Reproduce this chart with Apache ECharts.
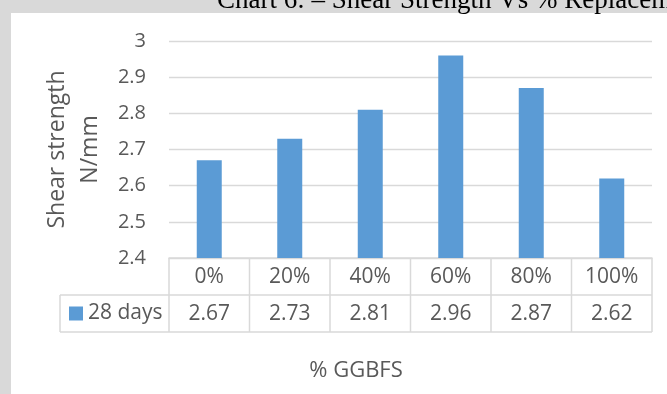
<!DOCTYPE html>
<html>
<head>
<meta charset="utf-8">
<script src="https://cdn.jsdelivr.net/npm/echarts@6/dist/echarts.min.js"></script>
<style>
  html, body { margin: 0; padding: 0; background: #fff; }
  #chart { width: 667px; height: 394px; }
</style>
</head>
<body>
<div id="chart"></div>
<script>
// Shear strength at 28 days for each GGBFS replacement level
const categories = ['0%', '20%', '40%', '60%', '80%', '100%'];
const days28 = [2.67, 2.73, 2.81, 2.96, 2.87, 2.62];
const seriesName = '28 days';
const yMin = 2.4;
const yMax = 3;
const yStep = 0.1;

const FONT = '"Open Sans", "Noto Sans", sans-serif';
const TEXT = '#595959';
const LINE = '#d9d9d9';
const PAGE = '#d9d9d9';
const BAR = '#5b9bd5';
const ROW_H = 37;

const chart = echarts.init(document.getElementById('chart'), null, { renderer: 'canvas' });

const option = {
  backgroundColor: '#ffffff',
  animation: false,
  textStyle: { fontFamily: FONT },
  grid: { left: 169, right: 15, top: 41, bottom: 136, containLabel: false },
  legend: {
    data: [seriesName],
    left: 69,
    top: 303,
    padding: 0,
    icon: 'rect',
    itemWidth: 14,
    itemHeight: 14,
    itemGap: 5,
    textStyle: { fontSize: 21, color: TEXT, fontFamily: FONT }
  },
  xAxis: [
    {
      type: 'category',
      data: categories,
      position: 'bottom',
      axisLine: { show: true, lineStyle: { color: LINE, width: 1.5 } },
      axisTick: { show: false },
      splitLine: { show: false },
      axisLabel: { margin: 9, fontSize: 21, color: TEXT, fontFamily: FONT }
    },
    {
      type: 'category',
      data: categories,
      position: 'bottom',
      axisLine: { show: false },
      axisTick: { show: false },
      splitLine: { show: false },
      axisLabel: {
        margin: 46,
        fontSize: 21,
        color: TEXT,
        fontFamily: FONT,
        formatter: (v, i) => days28[i].toFixed(2)
      }
    }
  ],
  yAxis: {
    type: 'value',
    min: yMin,
    max: yMax,
    interval: yStep,
    axisLine: { show: false },
    axisTick: { show: false },
    splitLine: { show: true, lineStyle: { color: LINE, width: 1.3 } },
    axisLabel: {
      margin: 23,
      fontSize: 20,
      color: TEXT,
      fontFamily: FONT,
      formatter: v => String(Math.round(v * 10) / 10)
    },
    name: 'Shear strength\nN/mm',
    nameLocation: 'middle',
    nameRotate: 90,
    nameGap: 57,
    nameTextStyle: { fontSize: 23, lineHeight: 33, color: TEXT, fontFamily: FONT }
  },
  series: [
    {
      type: 'bar',
      name: seriesName,
      data: days28,
      xAxisIndex: 0,
      barWidth: 25,
      itemStyle: { color: BAR }
    }
  ]
};

chart.setOption(option);

// Page frame, caption and the data-table ruling, placed from the axis scales
function drawExtras() {
  const c0 = chart.convertToPixel({ xAxisIndex: 0 }, 0);
  const c1 = chart.convertToPixel({ xAxisIndex: 0 }, 1);
  const half = (c1 - c0) / 2;
  const left = c0 - half;
  const right = chart.convertToPixel({ xAxisIndex: 0 }, categories.length - 1) + half;
  const top = chart.convertToPixel({ yAxisIndex: 0 }, yMin);
  const mid = top + ROW_H;
  const bot = mid + ROW_H;
  const legendLeft = 60;

  const lineStyle = { stroke: LINE, lineWidth: 1.5 };
  const elements = [];

  // grey page margins around the chart panel
  elements.push({ type: 'rect', shape: { x: 0, y: 0, width: 667, height: 13 }, style: { fill: PAGE }, silent: true });
  elements.push({ type: 'rect', shape: { x: 0, y: 0, width: 11, height: 394 }, style: { fill: PAGE }, silent: true });

  // caption above the panel
  elements.push({
    type: 'text',
    x: 217,
    y: 14,
    style: {
      text: 'Chart 6: \u2013 Shear Strength Vs % Replacement of GGBFS',
      font: '27px "Liberation Serif", "DejaVu Serif", serif',
      fill: '#000',
      textVerticalAlign: 'bottom',
      verticalAlign: 'bottom'
    },
    silent: true
  });

  // horizontal table rules
  elements.push({ type: 'line', shape: { x1: legendLeft, y1: mid, x2: right, y2: mid }, style: lineStyle, silent: true });
  elements.push({ type: 'line', shape: { x1: legendLeft, y1: bot, x2: right, y2: bot }, style: lineStyle, silent: true });
  // vertical table rules
  for (let i = 0; i <= categories.length; i++) {
    const x = left + i * half * 2;
    elements.push({ type: 'line', shape: { x1: x, y1: top, x2: x, y2: bot }, style: lineStyle, silent: true });
  }
  elements.push({ type: 'line', shape: { x1: legendLeft, y1: mid, x2: legendLeft, y2: bot }, style: lineStyle, silent: true });

  // horizontal axis title
  elements.push({
    type: 'text',
    x: (legendLeft + right) / 2,
    y: 371,
    style: {
      text: '% GGBFS',
      font: '22px ' + FONT,
      fill: TEXT,
      align: 'center',
      verticalAlign: 'middle'
    },
    silent: true
  });

  chart.setOption({ graphic: { elements: elements } });
}

drawExtras();
</script>
</body>
</html>
